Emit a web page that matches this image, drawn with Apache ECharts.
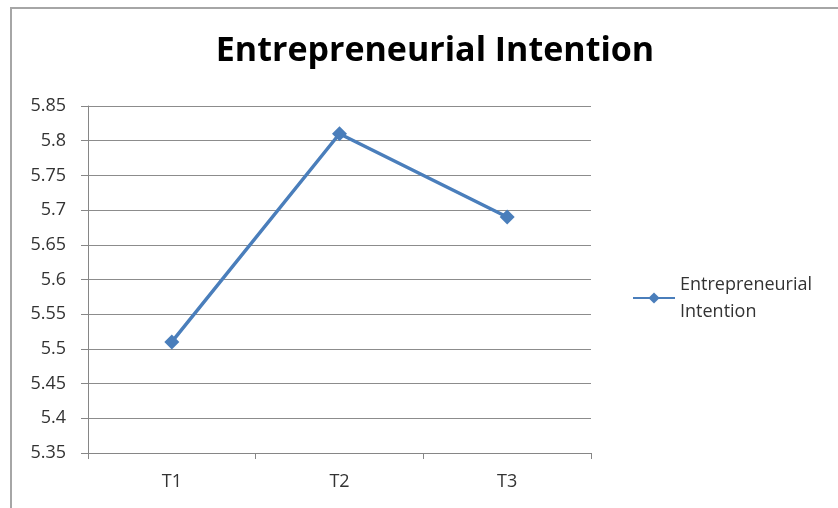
<!DOCTYPE html>
<html>
<head>
<meta charset="utf-8">
<script src="https://cdn.jsdelivr.net/npm/echarts@6/dist/echarts.min.js"></script>
<style>
  html, body { margin: 0; padding: 0; background: #fff; }
  #frame { position: absolute; left: 10px; top: 7px; width: 840px; height: 520px; border: 2px solid #a6a6a6; box-sizing: border-box; }
  #chart { position: absolute; left: 0; top: 0; width: 838px; height: 508px; }
</style>
</head>
<body>
<div id="frame"></div>
<div id="chart"></div>
<script>
// data
const periods = ['T1', 'T2', 'T3'];
const intention = [5.51, 5.81, 5.69];
const seriesName = 'Entrepreneurial Intention';

let myChart = echarts.init(document.getElementById('chart'));

myChart.setOption({
    animation: false,
    textStyle: { fontFamily: 'Open Sans' },
    title: {
        text: 'Entrepreneurial Intention',
        left: 430,
        top: 29,
        textAlign: 'center',
        textStyle: { fontFamily: 'Open Sans', fontSize: 34, fontWeight: 'bold', color: '#000' }
    },
    legend: {
        data: [seriesName],
        orient: 'vertical',
        left: 627,
        top: 266,
        itemWidth: 42,
        itemHeight: 14,
        formatter: () => 'Entrepreneurial\nIntention',
        textStyle: { fontSize: 18, color: '#333', lineHeight: 27 }
    },
    grid: { left: 88, right: 247, top: 106, bottom: 55 },
    xAxis: {
        type: 'category',
        data: periods,
        boundaryGap: true,
        axisLine: { lineStyle: { color: '#868686', width: 1 } },
        axisTick: { show: true, length: 6, lineStyle: { color: '#868686' } },
        axisLabel: { fontSize: 18, color: '#333', margin: 20 }
    },
    yAxis: {
        type: 'value',
        min: 5.35,
        max: 5.85,
        interval: 0.05,
        axisLine: { show: true, lineStyle: { color: '#868686' } },
        axisTick: { show: true, length: 7, lineStyle: { color: '#868686' } },
        splitLine: { lineStyle: { color: '#8c8c8c', width: 1 } },
        axisLabel: {
            fontSize: 18, color: '#333', margin: 22,
            formatter: v => String(parseFloat(v.toFixed(2)))
        }
    },
    series: [
        {
            name: seriesName,
            type: 'line',
            data: intention,
            symbol: 'diamond',
            symbolSize: 15,
            lineStyle: { color: '#4a7ebb', width: 3.5 },
            itemStyle: { color: '#4a7ebb' }
        }
    ]
});
</script>
</body>
</html>
